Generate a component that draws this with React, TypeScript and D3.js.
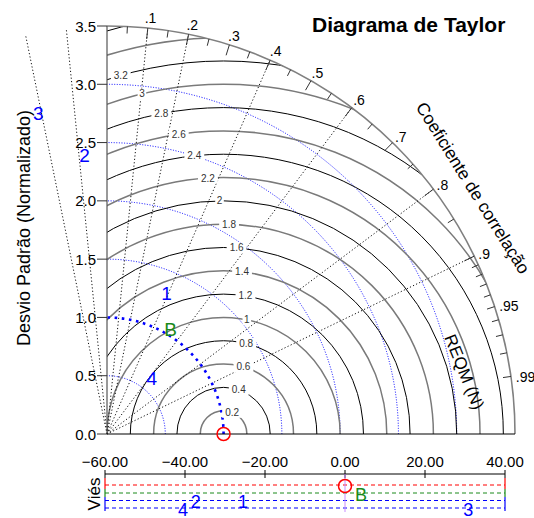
import React from "react";
import * as d3 from "d3";

// ---------- data ----------
const stdTicks = [0, 0.5, 1.0, 1.5, 2.0, 2.5, 3.0, 3.5];
const stdArcs = [0.5, 1.5, 2.0, 2.5, 3.0];
const refStd = 1.0;
const corrLines = [-0.2, -0.1, 0.1, 0.2, 0.4, 0.6, 0.8, 0.9];
const corrMajor = [0.1, 0.2, 0.3, 0.4, 0.5, 0.6, 0.7, 0.8, 0.9, 0.95, 0.99];
const corrMajorLabels = [".1", ".2", ".3", ".4", ".5", ".6", ".7", ".8", ".9", ".95", ".99"];
const corrMinor = [0.05, 0.15, 0.25, 0.35, 0.45, 0.55, 0.65, 0.75, 0.85, 0.91, 0.92, 0.93, 0.94, 0.96, 0.97, 0.98];
const rmseLevels = [0.2, 0.4, 0.6, 0.8, 1.0, 1.2, 1.4, 1.6, 1.8, 2.0, 2.2, 2.4, 2.6, 2.8, 3.0, 3.2, 3.4, 3.6, 3.8, 4.0, 4.2, 4.4];

const modelNames = ["1", "2", "3", "4", "B"];
const modelStd = [1.31, 2.4, 2.81, 0.61, 1.05];
const modelCorr = [0.39, -0.08, -0.21, 0.63, 0.52];
const modelBias = [-25.5, -37.3, 30.8, -40.5, 4.0];
const modelBiasRow = [2, 2, 3, 3, 1];
const modelColors = ["#0000ff", "#0000ff", "#0000ff", "#0000ff", "#1a8a1a"];

const obsBias = 0;
const biasTicks = [-60, -40, -20, 0, 20, 40];
const biasRowColors = ["#ff0000", "#1a8a1a", "#0000ff", "#0000ff"];

// ---------- layout ----------
const W = 534;
const H = 518;
const ox = 107;
const oy = 434;
const R = 408;
const maxStd = 3.5;
const FONT = "'Liberation Sans', Arial, sans-serif";

export default function App() {
  const r = d3.scaleLinear().domain([0, maxStd]).range([0, R]);
  const bx = d3.scaleLinear().domain([-60, 40]).range([105, 505]);
  const pt = (s: number, c: number): [number, number] => {
    const th = Math.acos(c);
    return [ox + r(s) * Math.cos(th), oy - r(s) * Math.sin(th)];
  };
  const quarter = (rad: number) => `M${ox + rad},${oy} A${rad},${rad} 0 0 0 ${ox},${oy - rad}`;
  const [cx, cy] = pt(refStd, 1);
  const fmt = d3.format("~g");

  const rmseLabels = rmseLevels
    .map((lv) => {
      const a = ((66 + 12.5 * lv) * Math.PI) / 180;
      const dxs = refStd + lv * Math.cos(a);
      const dys = lv * Math.sin(a);
      const inside = dxs > 0.08 && dys > 0.05 && Math.hypot(dxs, dys) < maxStd - 0.1;
      return { lv, x: ox + r(dxs), y: oy - r(dys), inside };
    })
    .filter((d) => d.inside);

  const biasRowY = [485, 493, 500.5, 508];

  return (
    <svg
      width={W}
      height={H}
      style={{ position: "absolute", left: 0, top: 0, background: "#fff" }}
      fontFamily={FONT}
    >
      <defs>
        <clipPath id="quad">
          <path d={`M${ox},${oy} L${ox + R},${oy} A${R},${R} 0 0 0 ${ox},${oy - R} Z`} />
        </clipPath>
      </defs>
      <rect x={0} y={0} width={W} height={H} fill="#fff" />

      {stdArcs.map((s) => (
        <path key={"s" + s} d={quarter(r(s))} fill="none" stroke="#0000ff" strokeWidth={1} strokeDasharray="1,1.6" />
      ))}

      <g clipPath="url(#quad)">
        {rmseLevels.map((lv, i) => (
          <circle
            key={"c" + lv}
            cx={cx}
            cy={cy}
            r={r(lv)}
            fill="none"
            stroke={i % 2 === 0 ? "#7a7a7a" : "#000"}
            strokeWidth={i % 2 === 0 ? 1.5 : 1}
          />
        ))}
      </g>

      {corrLines.map((c) => {
        const [x2, y2] = pt(maxStd, c);
        return (
          <line key={"l" + c} x1={ox} y1={oy} x2={x2} y2={y2} stroke="#111" strokeWidth={1} strokeDasharray="1.2,2.2" />
        );
      })}

      <path d={quarter(r(refStd))} fill="none" stroke="#0000ff" strokeWidth={2.6} strokeDasharray="2.6,4.6" />

      {rmseLabels.map((d) => {
        const t = fmt(d.lv);
        const w = t.length * 5.6 + 3;
        return (
          <g key={"rl" + d.lv}>
            <rect x={d.x - w / 2} y={d.y - 5.5} width={w} height={11} fill="#fff" />
            <text x={d.x} y={d.y} fontSize={10} fill="#333" textAnchor="middle" dominantBaseline="central">
              {t}
            </text>
          </g>
        );
      })}

      <path d={quarter(R)} fill="none" stroke="#808080" strokeWidth={1.6} />
      <line x1={ox} y1={oy} x2={ox} y2={oy - R} stroke="#555" strokeWidth={1.2} />
      <line x1={ox} y1={oy} x2={ox + R} y2={oy} stroke="#000" strokeWidth={1.2} />

      {corrMajor.map((c, i) => {
        const [x1, y1] = pt(maxStd, c);
        const len = c > 0.92 ? 8 : 11;
        const [x2, y2] = pt(maxStd - len / r(1), c);
        const dx = -4 + 9 * c;
        const dy = -5 + 3 * c + 8 * Math.pow(c, 4);
        return (
          <g key={"mt" + c}>
            <line x1={x1} y1={y1} x2={x2} y2={y2} stroke="#333" strokeWidth={1} />
            <text x={x1 + dx} y={y1 + dy} fontSize={14} fill="#000">
              {corrMajorLabels[i]}
            </text>
          </g>
        );
      })}
      {corrMinor.map((c) => {
        const [x1, y1] = pt(maxStd, c);
        const [x2, y2] = pt(maxStd - 7 / r(1), c);
        return <line key={"nt" + c} x1={x1} y1={y1} x2={x2} y2={y2} stroke="#333" strokeWidth={1} />;
      })}

      {stdTicks.map((s) => (
        <g key={"yt" + s}>
          <line x1={ox - 10} y1={oy - r(s)} x2={ox} y2={oy - r(s)} stroke="#333" strokeWidth={1} />
          <text x={ox - 11} y={oy - r(s)} fontSize={15} textAnchor="end" dominantBaseline="central" fill="#000">
            {d3.format(".1f")(s)}
          </text>
        </g>
      ))}

      <circle cx={cx} cy={cy} r={6.5} fill="none" stroke="#ff0000" strokeWidth={1.5} />

      {modelNames.map((n, i) => {
        const [x, y] = pt(modelStd[i], modelCorr[i]);
        return (
          <text key={"m" + n} x={x} y={y} fontSize={19} fill={modelColors[i]} textAnchor="middle" dominantBaseline="central">
            {n}
          </text>
        );
      })}

      <text x={312} y={32} fontSize={21} fontWeight="bold" fill="#000">
        Diagrama de Taylor
      </text>
      <text
        transform={`translate(24,228) rotate(-90)`}
        fontSize={18}
        textAnchor="middle"
        dominantBaseline="central"
        fill="#000"
      >
        Desvio Padrão (Normalizado)
      </text>
      <text
        transform={`translate(473,188) rotate(58)`}
        fontSize={17.5}
        textAnchor="middle"
        dominantBaseline="central"
        fill="#000"
      >
        Coeficiente de correlação
      </text>
      <text
        transform={`translate(464,372) rotate(68)`}
        fontSize={17}
        textAnchor="middle"
        dominantBaseline="central"
        fill="#000"
      >
        REQM (N)
      </text>

      <line x1={bx(-60)} y1={474} x2={bx(40)} y2={474} stroke="#000" strokeWidth={1} />
      {biasTicks.map((t) => (
        <g key={"bt" + t}>
          <line x1={bx(t)} y1={470} x2={bx(t)} y2={478} stroke="#000" strokeWidth={1} />
          <text x={bx(t)} y={467} fontSize={15} textAnchor="middle" fill="#000">
            {d3.format(".2f")(t)}
          </text>
        </g>
      ))}
      {biasRowColors.map((col, i) => (
        <line
          key={"br" + i}
          x1={bx(-60)}
          y1={biasRowY[i]}
          x2={bx(40)}
          y2={biasRowY[i]}
          stroke={col}
          strokeWidth={1}
          strokeDasharray="4,3"
        />
      ))}
      {[bx(-60), bx(40)].map((x) => (
        <g key={"be" + x}>
          <line x1={x} y1={478} x2={x} y2={489} stroke="#ff0000" strokeWidth={1.2} />
          <line x1={x} y1={489} x2={x} y2={497} stroke="#1a8a1a" strokeWidth={1.2} />
          <line x1={x} y1={497} x2={x} y2={511} stroke="#0000ff" strokeWidth={1.2} />
        </g>
      ))}
      <line x1={bx(0)} y1={474} x2={bx(0)} y2={512} stroke="#c98cff" strokeWidth={1} />
      <circle cx={bx(obsBias)} cy={486} r={6.5} fill="none" stroke="#ff0000" strokeWidth={1.5} />
      {modelNames.map((n, i) => (
        <text
          key={"bm" + n}
          x={bx(modelBias[i])}
          y={biasRowY[modelBiasRow[i]] + 1.5}
          fontSize={18}
          fill={modelColors[i]}
          textAnchor="middle"
          dominantBaseline="central"
        >
          {n}
        </text>
      ))}
      <text
        transform={`translate(94,494) rotate(-90)`}
        fontSize={17}
        textAnchor="middle"
        dominantBaseline="central"
        fill="#000"
      >
        Viés
      </text>
    </svg>
  );
}
